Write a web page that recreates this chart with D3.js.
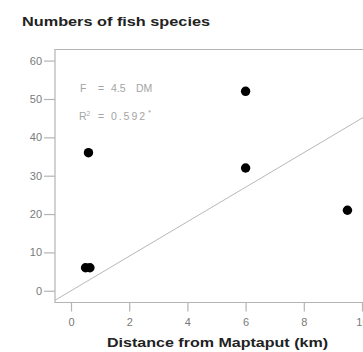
<!DOCTYPE html>
<html>
<head>
<meta charset="utf-8">
<script src="https://cdn.jsdelivr.net/npm/d3@7"></script>
<style>
  html, body { margin: 0; padding: 0; background: #fff; }
  svg { display: block; font-family: "Liberation Sans", Arial, sans-serif; }
</style>
</head>
<body>
<svg id="chart" width="363" height="352"></svg>
<script>
// Fish species counts at sites by distance from Maptaput
const distanceKm = [0.5, 0.65, 0.6, 6, 6, 9.5];
const speciesCount = [6, 6, 36, 52, 32, 21];
const xTicks = [0, 2, 4, 6, 8, 10];
const yTicks = [0, 10, 20, 30, 40, 50, 60];
// Fitted model F = slope * DM
const slope = 4.5;
const rSquared = "0.592";

const svg = d3.select("#chart");
const plotLeft = 55, plotTop = 49.5, plotBottom = 302.5, plotRight = 378;

const x = d3.scaleLinear().domain([-0.55, 10.55]).range([plotLeft, plotRight]);
const y = d3.scaleLinear().domain([-3.06, 62.9]).range([plotBottom, plotTop]);

const axisColor = "#b4b4b4";
const labelColor = "#7a7a7a";

// Frame: left, top and bottom edges
svg.append("path")
  .attr("d", `M${plotRight},${plotTop}H${plotLeft}V${plotBottom}H${plotRight}`)
  .attr("fill", "none").attr("stroke", axisColor).attr("stroke-width", 1.2);

// Y axis
const yAxis = svg.append("g").attr("transform", `translate(${plotLeft},0)`)
  .call(d3.axisLeft(y).tickValues(yTicks).tickSize(11).tickPadding(1.5));
yAxis.select(".domain").remove();
yAxis.selectAll(".tick line").attr("stroke", axisColor).attr("stroke-width", 1.2);
yAxis.selectAll(".tick text").attr("fill", labelColor)
  .style("font-size", "11px").style("letter-spacing", "0.3px");

// X axis
const xAxis = svg.append("g").attr("transform", `translate(0,${plotBottom})`)
  .call(d3.axisBottom(x).tickValues(xTicks).tickSize(9).tickPadding(7));
xAxis.select(".domain").remove();
xAxis.selectAll(".tick line").attr("stroke", axisColor).attr("stroke-width", 1.2);
xAxis.selectAll(".tick text").attr("fill", labelColor).style("font-size", "11px");

// Regression line through the origin
const xr = x.domain();
svg.append("line")
  .attr("x1", x(xr[0])).attr("y1", y(slope * xr[0]))
  .attr("x2", x(xr[1])).attr("y2", y(slope * xr[1]))
  .attr("stroke", "#b8b8b8").attr("stroke-width", 1);

// Data points
svg.selectAll("circle.pt")
  .data(distanceKm.map((d, i) => [d, speciesCount[i]]))
  .join("circle").attr("class", "pt")
  .attr("cx", d => x(d[0])).attr("cy", d => y(d[1]))
  .attr("r", 4.7).attr("fill", "#000");

// Model annotation
const ann = svg.append("g").attr("fill", "#a4a4a4").style("font-size", "10.5px");
const l1 = ann.append("text").attr("x", 80).attr("y", 92);
l1.append("tspan").text("F");
l1.append("tspan").attr("x", 98).text("=");
l1.append("tspan").attr("x", 111).text(`${slope}`);
l1.append("tspan").attr("x", 136).text("DM");
const l2 = ann.append("text").attr("x", 79).attr("y", 120);
l2.append("tspan").text("R");
l2.append("tspan").attr("dy", -4.5).style("font-size", "6.5px").text("2");
l2.append("tspan").attr("x", 98).attr("dy", 4.5).text("=");
l2.append("tspan").attr("x", 111).attr("textLength", 34).text(rSquared);
l2.append("tspan").attr("x", 148).attr("dy", -5).style("font-size", "8px").text("*");

// Title and axis label
svg.append("text").attr("x", 22).attr("y", 25.5)
  .attr("fill", "#222").style("font-size", "12.5px").style("font-weight", "bold")
  .attr("textLength", 188).attr("lengthAdjust", "spacingAndGlyphs")
  .text("Numbers of fish species");

svg.append("text").attr("x", 107).attr("y", 347)
  .attr("fill", "#222").style("font-size", "12.5px").style("font-weight", "bold")
  .attr("textLength", 221).attr("lengthAdjust", "spacingAndGlyphs")
  .text("Distance from Maptaput (km)");
</script>
</body>
</html>
